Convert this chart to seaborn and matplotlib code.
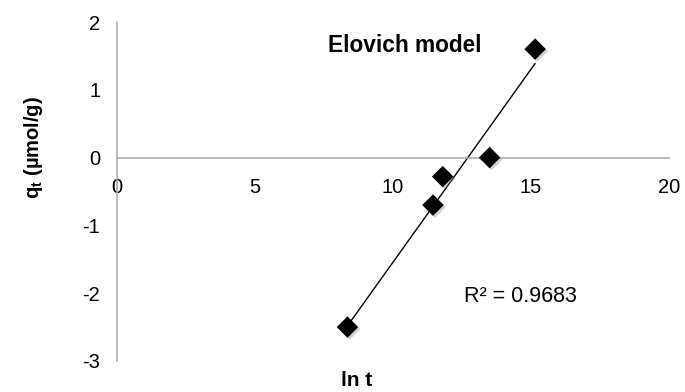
import numpy as np
import pandas as pd
import matplotlib
matplotlib.use("Agg")
import matplotlib.pyplot as plt
import matplotlib.patheffects as pe
import seaborn as sns

# Elovich kinetic data: ln t against q_t
ln_t = [8.35, 11.45, 11.8, 13.5, 15.15]
q_t = [-2.5, -0.7, -0.28, 0.0, 1.6]
x_ticks = [0, 5, 10, 15, 20]
y_ticks = [-3, -2, -1, 0, 1, 2]
r2_label = "R² = 0.9683"
title_text = "Elovich model"

df = pd.DataFrame({"ln t": ln_t, "q_t": q_t})

sns.set_theme(style="white")
plt.rcParams["font.family"] = ["Liberation Sans", "DejaVu Sans"]
plt.rcParams["mathtext.fontset"] = "custom"
plt.rcParams["mathtext.rm"] = "Liberation Sans"
plt.rcParams["mathtext.bf"] = "Liberation Sans:bold"
plt.rcParams["axes.unicode_minus"] = False
plt.rcParams["text.color"] = "black"
plt.rcParams["axes.labelcolor"] = "black"

fig = plt.figure(figsize=(6.85, 3.92), dpi=100)
ax = fig.add_axes([117 / 685, 1 - 361 / 392, 552 / 685, 339 / 392])

# linear trend line over the data range
sns.regplot(data=df, x="ln t", y="q_t", ax=ax, scatter=False, ci=None,
            truncate=True, line_kws=dict(color="black", lw=1.0, zorder=2))

sns.scatterplot(data=df, x="ln t", y="q_t", ax=ax, marker="D", s=120,
                color="black", edgecolor="black", linewidth=0, zorder=3)
for coll in ax.collections:
    coll.set_path_effects([pe.SimplePatchShadow(offset=(1.5, -1.5), alpha=0.35,
                                                shadow_rgbFace="gray"),
                           pe.Normal()])

ax.set_xlim(0, 20)
ax.set_ylim(-3, 2)
ax.set_xticks(x_ticks)
ax.set_yticks(y_ticks)

axis_gray = "#A6A6A6"
for side in ["top", "right"]:
    ax.spines[side].set_visible(False)
ax.spines["bottom"].set_position(("data", 0))
for side in ["left", "bottom"]:
    ax.spines[side].set_color(axis_gray)
    ax.spines[side].set_linewidth(1.1)
ax.tick_params(axis="both", direction="out", length=5, width=1.1,
               color=axis_gray, labelsize=14.5, labelcolor="black")
ax.tick_params(axis="x", pad=10)
ax.tick_params(axis="y", pad=7)

ax.set_xlabel("ln t", fontsize=15, fontweight="bold")
ax.xaxis.set_label_coords(0.435, -0.03)
ax.set_ylabel(r"$\mathbf{q_t}$ (µmol/g)", fontsize=14.5, fontweight="bold")
ax.yaxis.set_label_coords(-0.13, 0.63)

ax.text(0.522, 0.932, title_text, transform=ax.transAxes, ha="center",
        va="center", fontsize=16.3, fontweight="bold")
ax.text(0.73, 0.189, r2_label, transform=ax.transAxes, ha="center",
        va="center", fontsize=15.5)

fig.savefig("out.png", dpi=100)
